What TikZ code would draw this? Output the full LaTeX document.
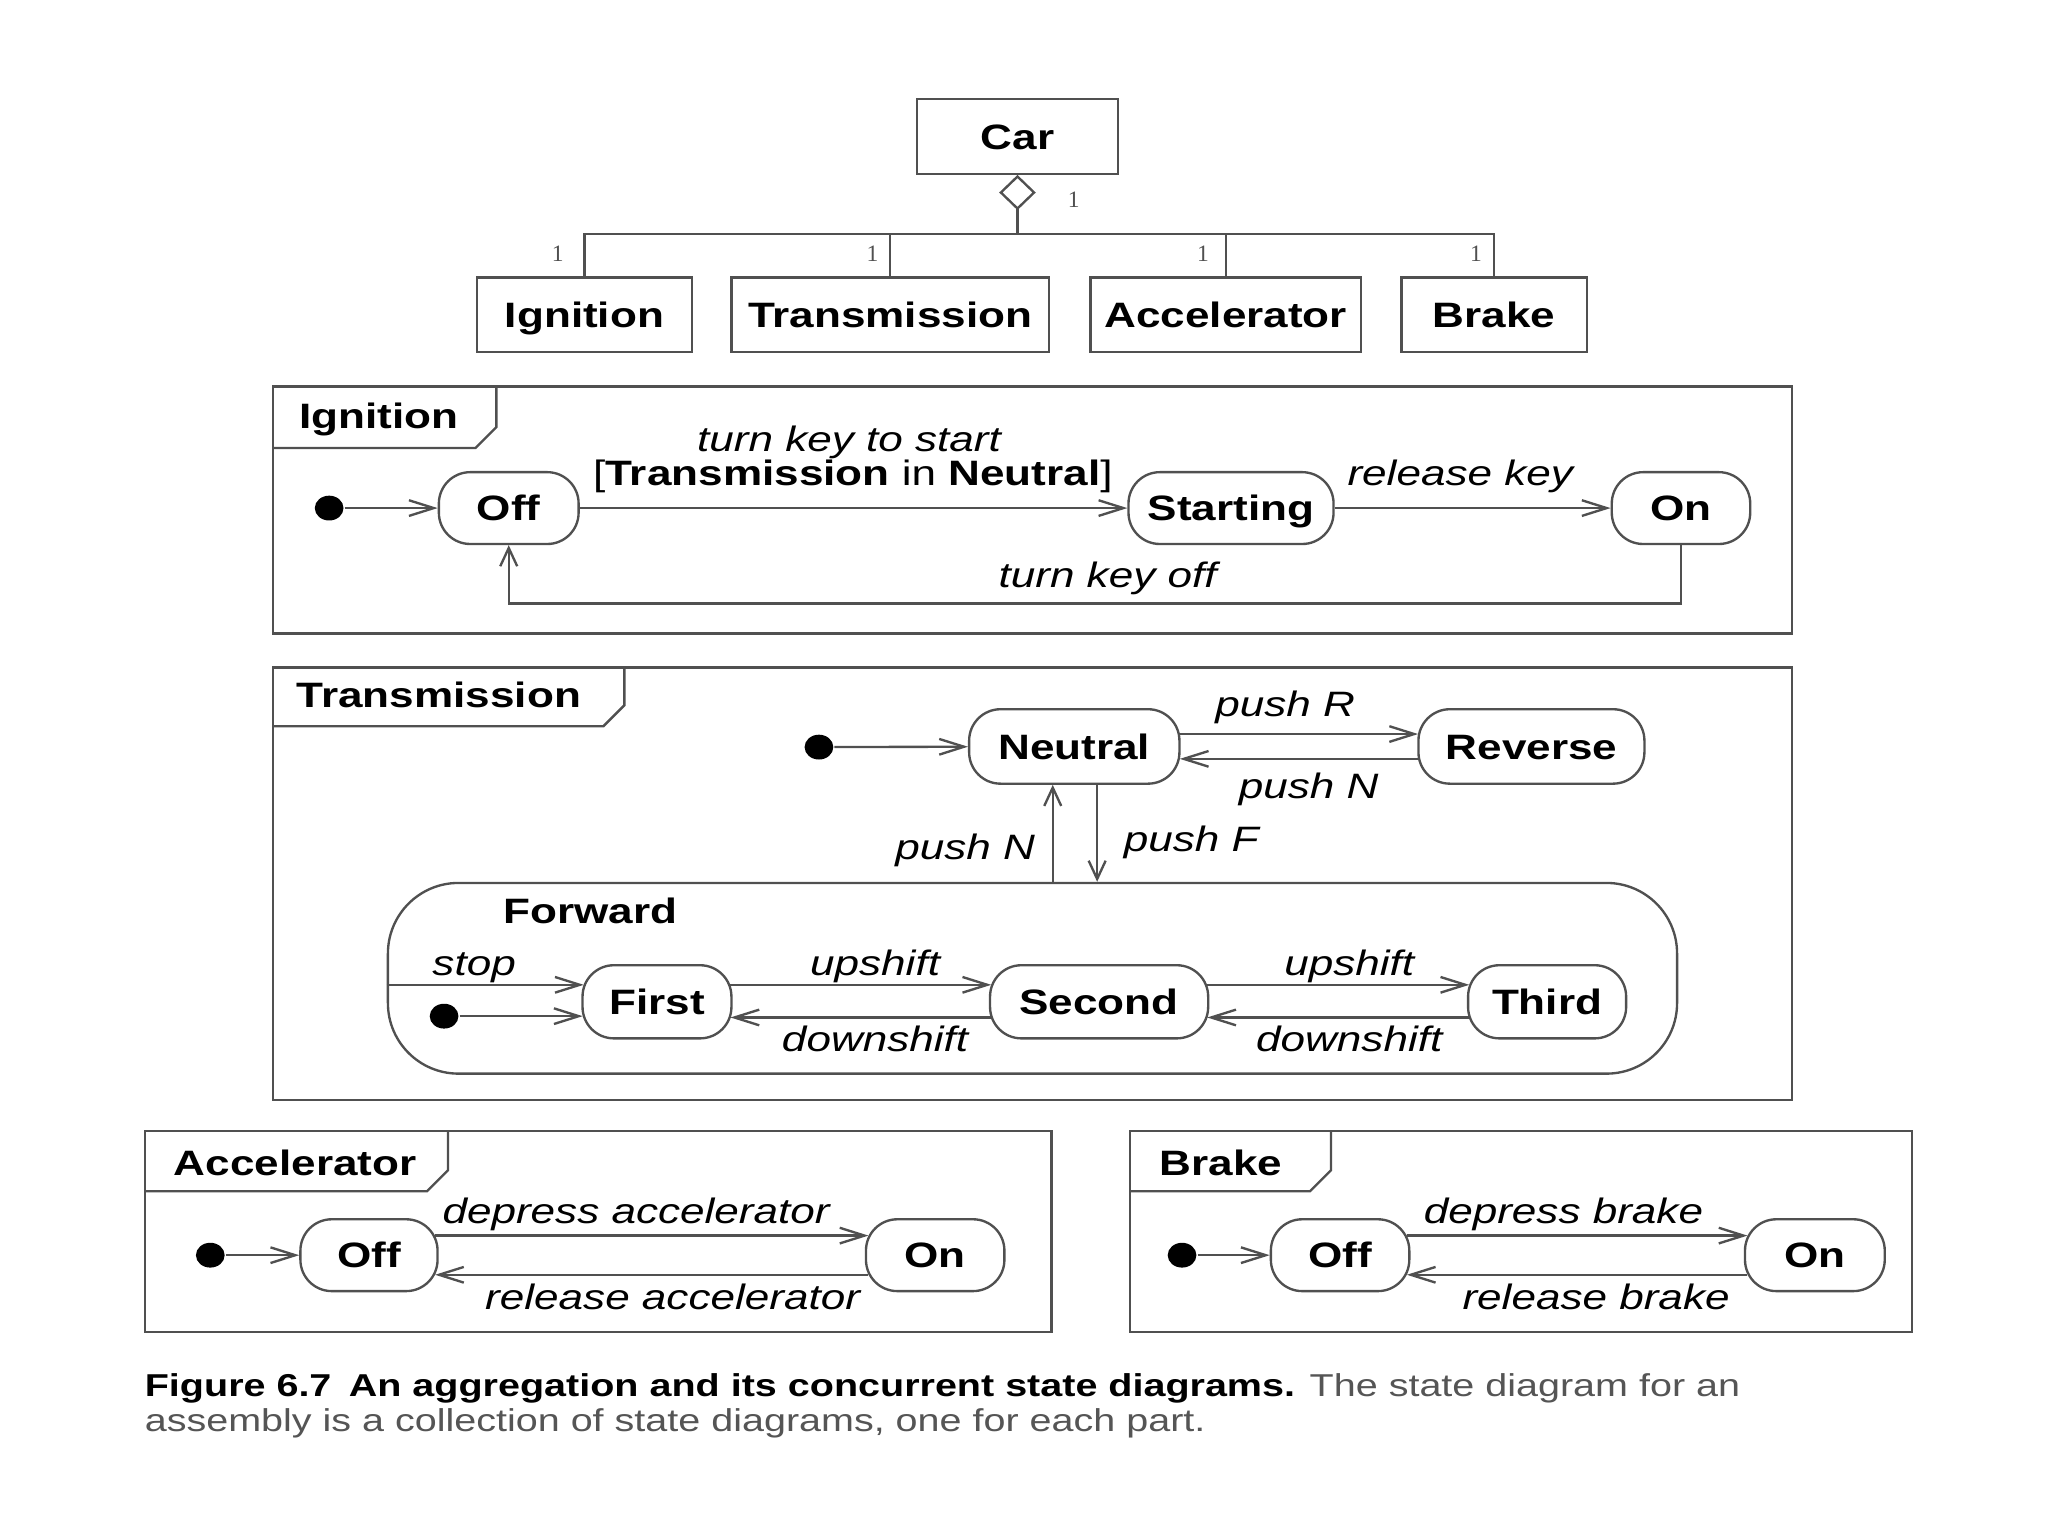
\documentclass[tikz,border=0pt]{standalone}
\usepackage{fontspec}
\setmainfont{Liberation Sans}[FakeStretch=1.25]
\newfontfamily\multfamily{Liberation Serif}
\usetikzlibrary{arrows.meta,shapes.geometric}
\definecolor{lc}{HTML}{505050}
\definecolor{capgray}{HTML}{555555}
\newcommand\stBold{\fontsize{13.5}{16}\selectfont\bfseries}
\newcommand\stItal{\fontsize{13.5}{16}\selectfont\itshape}
\newcommand\stReg{\fontsize{13.5}{16}\selectfont}
\newcommand\stMult{\multfamily\fontsize{9}{10}\selectfont}
\newcommand\stCap{\fontsize{12.1}{13.5}\selectfont}
\begin{document}
\begin{tikzpicture}[x=0.5pt,y=-0.5pt,
  line width=0.9pt,
  cls/.style={draw=lc, rectangle, minimum height=28.5pt, inner sep=0pt, font=\stBold, text height=9.7pt, text depth=0pt},
  state/.style={draw=lc, rounded corners=12pt, minimum height=28pt, inner sep=0pt, font=\stBold, text height=9.7pt, text depth=0pt},
  lbl/.style={inner sep=0pt, font=\stItal, text height=9.7pt, text depth=0pt},
  tablbl/.style={inner sep=0pt, font=\stBold, text height=9.7pt, text depth=0pt},
  mult/.style={inner sep=0pt, font=\stMult, text=lc},
  initdot/.style={ellipse, fill=black, draw=none, minimum width=11pt, minimum height=9.5pt, inner sep=0pt},
  arr/.style={draw=lc, -{Straight Barb[length=9.5pt,width=6pt]}},
  varr/.style={draw=lc, -{Straight Barb[length=7pt,width=6.5pt]}},
  frame/.style={draw=lc},
]
\fill[white] (0,0) rectangle (1568,1176);
\useasboundingbox (0,0) rectangle (1568,1176);

% ---------- class diagram ----------
\node[cls, minimum width=77pt] (car) at (779,104.5) {Car};
\node[cls, minimum width=82.5pt] (cign) at (447.5,241) {Ignition};
\node[cls, minimum width=121.5pt] (ctrans) at (681.5,241) {Transmission};
\node[cls, minimum width=103.5pt] (cacc) at (938.5,241) {Accelerator};
\node[cls, minimum width=71pt] (cbrake) at (1144,241) {Brake};
\coordinate (bus) at (779,179);
\draw[draw=lc, {Diamond[open,length=13.5pt,width=14pt]}-] (car.south) -- (bus);
\draw[lc] (cign.north) |- (bus) -| (cbrake.north);
\draw[lc] (ctrans.north) -- (ctrans.north |- bus);
\draw[lc] (cacc.north) -- (cacc.north |- bus);
\node[mult] (m0) at (822,153) {1};
\node[mult] (m1) at (427,194) {1};
\node[mult] (m2) at (668,194) {1};
\node[mult] (m3) at (921,194) {1};
\node[mult] (m4) at (1130,194) {1};

% ---------- Ignition ----------
\draw[frame] (209,296) rectangle (1372,485);
\draw[frame] (209,343) -- (364,343) -- (380,327) -- (380,296);
\node[tablbl] (tIgn) at (290,318) {Ignition};
\node[initdot] (idot) at (252,389) {};
\node[state, minimum width=53.5pt, minimum height=27.5pt] (ioff) at (389.5,389) {Off};
\node[state, minimum width=78.5pt, minimum height=27.5pt] (istart) at (942.5,389) {Starting};
\node[state, minimum width=53pt, minimum height=27.5pt] (ion) at (1287,389) {On};
\draw[arr] (idot) -- (ioff);
\draw[arr] (ioff) -- (istart);
\draw[arr] (istart) -- (ion);
\coordinate (kb) at (0,462);
\draw[varr] (ion.south) |- (kb -| ioff.south) -- (ioff.south);
\node[lbl] (l1) at (650,336) {turn key to start};
\node[lbl, font=\stReg] (l2) at (653,362) {[{\bfseries Transmission} in {\bfseries Neutral}]};
\node[lbl] (l3) at (1118,362) {release key};
\node[lbl] (l4) at (848,440) {turn key off};

% ---------- Transmission ----------
\draw[frame] (209,511) rectangle (1372,842);
\draw[frame] (209,556) -- (462,556) -- (478,540) -- (478,511);
\node[tablbl] (tTr) at (336,532) {Transmission};
\node[initdot] (tdot) at (627,572) {};
\node[state, minimum width=80.5pt, minimum height=28.5pt] (neutral) at (822.5,571.5) {Neutral};
\node[state, minimum width=86.5pt, minimum height=28.5pt] (reverse) at (1172.5,571.5) {Reverse};
\draw[arr] (tdot) -- (neutral);
\draw[arr] ([shift={(-0.3pt,4.75pt)}]neutral.east) -- ([shift={(0.3pt,4.75pt)}]reverse.west);
\draw[arr] ([shift={(0.3pt,-4.75pt)}]reverse.west) -- ([shift={(-0.3pt,-4.75pt)}]neutral.east);
\node[draw=lc, rounded corners=27pt, minimum width=493.5pt, minimum height=73pt, inner sep=0pt] (fwd) at (790.5,749) {};
\coordinate (nU) at ([xshift=-8.25pt]neutral.south);
\coordinate (nD) at ([xshift=8.75pt]neutral.south);
\draw[varr] (fwd.north -| nU) -- (nU);
\draw[varr] (nD) -- (fwd.north -| nD);
\node[lbl] (l5) at (984,539) {push R};
\node[lbl] (l6) at (1002,602) {push N};
\node[lbl] (l7) at (739,648) {push N};
\node[lbl] (l8) at (912,642) {push F};
\node[tablbl] (lfwd) at (452,697) {Forward};
\node[state, minimum width=57pt] (first) at (503,767) {First};
\node[state, minimum width=83.5pt] (second) at (841.5,767) {Second};
\node[state, minimum width=60.5pt] (third) at (1184.5,767) {Third};
\node[initdot] (fdot) at (340,778) {};
\coordinate (fs) at ([shift={(0.9pt,6.5pt)}]first.west);
\coordinate (fd) at ([shift={(0.5pt,-5.5pt)}]first.west);
\draw[arr] (fwd.west |- fs) -- (fs);
\draw[arr] (fdot) -- (fd);
\draw[arr] ([shift={(-0.9pt,6.5pt)}]first.east) -- ([shift={(0.9pt,6.5pt)}]second.west);
\draw[arr] ([shift={(0.8pt,-6pt)}]second.west) -- ([shift={(-0.8pt,-6pt)}]first.east);
\draw[arr] ([shift={(-0.9pt,6.5pt)}]second.east) -- ([shift={(0.9pt,6.5pt)}]third.west);
\draw[arr] ([shift={(0.8pt,-6pt)}]third.west) -- ([shift={(-0.8pt,-6pt)}]second.east);
\node[lbl] (l9) at (363,737) {stop};
\node[lbl] (l10) at (670,737) {upshift};
\node[lbl] (l11) at (1033,737) {upshift};
\node[lbl] (l12) at (670,795) {downshift};
\node[lbl] (l13) at (1033,795) {downshift};

% ---------- Accelerator ----------
\draw[frame] (111,866) rectangle (805,1020);
\draw[frame] (111,912) -- (327,912) -- (343,896) -- (343,866);
\node[tablbl] (tAcc) at (226,890) {Accelerator};
\node[initdot] (adot) at (161,961) {};
\node[state, minimum width=52.5pt, minimum height=27.5pt] (aoff) at (282.5,961) {Off};
\node[state, minimum width=53pt, minimum height=27.5pt] (aon) at (716,961) {On};
\draw[arr] (adot) -- (aoff);
\draw[arr] ([shift={(-1.4pt,7.5pt)}]aoff.east) -- ([shift={(1.4pt,7.5pt)}]aon.west);
\draw[arr] ([shift={(1.4pt,-7.5pt)}]aon.west) -- ([shift={(-1.4pt,-7.5pt)}]aoff.east);
\node[lbl] (l14) at (487,927) {depress accelerator};
\node[lbl] (l15) at (515,993) {release accelerator};

% ---------- Brake ----------
\draw[frame] (865,866) rectangle (1464,1020);
\draw[frame] (865,912) -- (1003,912) -- (1019,896) -- (1019,866);
\node[tablbl] (tBr) at (935,890) {Brake};
\node[initdot] (bdot) at (905,961) {};
\node[state, minimum width=53pt, minimum height=27.5pt] (boff) at (1026,961) {Off};
\node[state, minimum width=53.5pt, minimum height=27.5pt] (bon) at (1389.5,961) {On};
\draw[arr] (bdot) -- (boff);
\draw[arr] ([shift={(-1.4pt,7.5pt)}]boff.east) -- ([shift={(1.4pt,7.5pt)}]bon.west);
\draw[arr] ([shift={(1.4pt,-7.5pt)}]bon.west) -- ([shift={(-1.4pt,-7.5pt)}]boff.east);
\node[lbl] (l16) at (1197,927) {depress brake};
\node[lbl] (l17) at (1222,993) {release brake};

% ---------- caption ----------
\node[anchor=base west, inner sep=0pt, font=\stCap] (cap1) at (110,1069)
  {{\bfseries Figure 6.7\hspace{0.55em}An aggregation and its concurrent state diagrams.} \textcolor{capgray}{The state diagram for an}};
\node[anchor=base west, inner sep=0pt, font=\stCap, text=capgray] (cap2) at (110,1096)
  {assembly is a collection of state diagrams, one for each part.};
\end{tikzpicture}
\end{document}
